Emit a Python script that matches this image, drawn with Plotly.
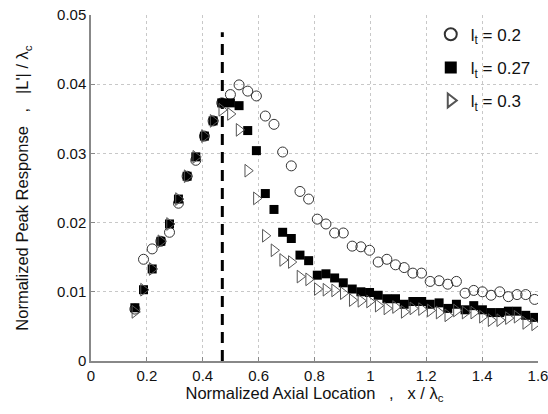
import plotly.graph_objects as go

# Axial locations (normalized x / lambda_c)
x_loc = [0.157, 0.188, 0.219, 0.250, 0.281, 0.313, 0.344, 0.375, 0.406, 0.437,
         0.468, 0.499, 0.530, 0.561, 0.592, 0.624, 0.655, 0.686, 0.717, 0.748,
         0.779, 0.810, 0.841, 0.872, 0.903, 0.935, 0.966, 0.997, 1.028, 1.059,
         1.090, 1.121, 1.152, 1.183, 1.214, 1.246, 1.277, 1.308, 1.339, 1.370,
         1.401, 1.432, 1.463, 1.494, 1.525, 1.556, 1.588]

peak_lt020 = [0.0075, 0.0147, 0.0162, 0.0173, 0.0186, 0.0228, 0.0267, 0.0290, 0.0325, 0.0347,
              0.0373, 0.0385, 0.0399, 0.0390, 0.0383, 0.0354, 0.0342, 0.0302, 0.0282, 0.0245,
              0.0234, 0.0205, 0.0198, 0.0185, 0.0185, 0.0166, 0.0165, 0.0160, 0.0143, 0.0147,
              0.0139, 0.0135, 0.0127, 0.0127, 0.0115, 0.0116, 0.0111, 0.0115, 0.0098, 0.0102,
              0.0100, 0.0095, 0.0100, 0.0093, 0.0096, 0.0096, 0.0089]

peak_lt027 = [0.0077, 0.0103, 0.0133, 0.0173, 0.0198, 0.0234, 0.0267, 0.0295, 0.0325, 0.0347,
              0.0373, 0.0373, 0.0369, 0.0333, 0.0304, 0.0242, 0.0219, 0.0186, 0.0177, 0.0153,
              0.0145, 0.0124, 0.0126, 0.0120, 0.0113, 0.0104, 0.0100, 0.0099, 0.0095, 0.0090,
              0.0090, 0.0082, 0.0086, 0.0086, 0.0082, 0.0084, 0.0076, 0.0082, 0.0074, 0.0080,
              0.0074, 0.0070, 0.0070, 0.0072, 0.0072, 0.0066, 0.0063]

peak_lt030 = [0.0071, 0.0103, 0.0133, 0.0173, 0.0198, 0.0234, 0.0267, 0.0295, 0.0325, 0.0347,
              0.0363, 0.0357, 0.0334, 0.0275, 0.0235, 0.0181, 0.0160, 0.0146, 0.0143, 0.0122,
              0.0118, 0.0104, 0.0103, 0.0102, 0.0098, 0.0088, 0.0087, 0.0086, 0.0080, 0.0076,
              0.0078, 0.0071, 0.0076, 0.0075, 0.0073, 0.0070, 0.0066, 0.0073, 0.0070, 0.0070,
              0.0064, 0.0059, 0.0059, 0.0062, 0.0064, 0.0055, 0.0053]

ref_line_x = [0.47, 0.47]
ref_line_y = [0.0, 0.0475]

x_ticks = [0, 0.2, 0.4, 0.6, 0.8, 1.0, 1.2, 1.4, 1.6]
x_tick_labels = ["0", "0.2", "0.4", "0.6", "0.8", "1", "1.2", "1.4", "1.6"]
y_ticks = [0, 0.01, 0.02, 0.03, 0.04, 0.05]
y_tick_labels = ["0", "0.01", "0.02", "0.03", "0.04", "0.05"]

FONT = "Liberation Sans, Arial, Helvetica, sans-serif"

fig = go.Figure()
fig.add_trace(go.Scatter(
    x=ref_line_x, y=ref_line_y, mode="lines",
    line=dict(color="black", width=3, dash="11px,7px"),
    showlegend=False, hoverinfo="skip"))
fig.add_trace(go.Scatter(
    x=x_loc, y=peak_lt020, mode="markers", name="l<sub>t</sub> = 0.2", legendgroup="a",
    marker=dict(symbol="circle-open", size=10, color="#333333", line=dict(width=1))))
fig.add_trace(go.Scatter(
    x=x_loc, y=peak_lt027, mode="markers", name="l<sub>t</sub> = 0.27", legendgroup="b",
    marker=dict(symbol="square", size=9, color="black")))
fig.add_trace(go.Scatter(
    x=x_loc, y=peak_lt030, mode="markers", name="l<sub>t</sub> = 0.3", legendgroup="c",
    marker=dict(symbol="triangle-right-open", size=11, color="#555555", line=dict(width=1))))

axis_common = dict(
    showgrid=True, gridcolor="#c8c8c8", griddash="dot", gridwidth=1,
    showline=True, linecolor="#888888", linewidth=1.5,
    ticks="inside", ticklen=4, tickcolor="#888888",
    zeroline=False, automargin=False, ticklabeloverflow="allow",
    tickfont=dict(family=FONT, size=15, color="#111111"),
)

fig.update_xaxes(range=[0, 1.6], tickvals=x_ticks, ticktext=x_tick_labels,
                 title=dict(text="Normalized Axial Location   ,   x / λ<sub>c</sub>",
                            font=dict(family=FONT, size=16.5, color="#111111"), standoff=4),
                 **axis_common)
fig.update_yaxes(range=[0, 0.05], tickvals=y_ticks, ticktext=y_tick_labels,
                 title=dict(text="Normalized Peak Response   ,   |L'| / λ<sub>c</sub>",
                            font=dict(family=FONT, size=16.5, color="#111111"), standoff=24),
                 **axis_common)

fig.update_layout(
    width=548, height=414,
    margin=dict(l=91, r=10, t=15, b=53),
    plot_bgcolor="white", paper_bgcolor="white",
    legend=dict(x=0.995, y=0.995, xanchor="right", yanchor="top",
                bgcolor="rgba(0,0,0,0)", font=dict(family=FONT, size=17, color="#111111"),
                tracegroupgap=8, itemsizing="constant", itemwidth=30),
)

fig.write_html("out.html", config={"displayModeBar": False},
               post_script="document.body.style.margin='0';")
